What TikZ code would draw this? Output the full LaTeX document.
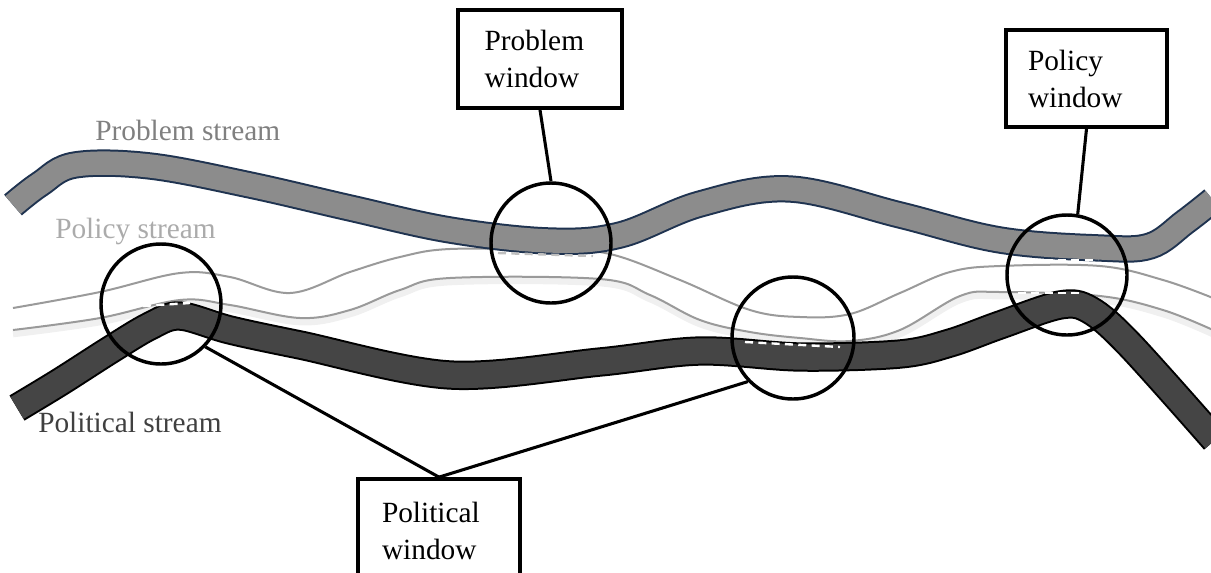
\documentclass[tikz,border=0pt]{standalone}
\usepackage{fontspec}
\setmainfont{Liberation Serif}
\definecolor{navy}{HTML}{1F3350}
\definecolor{probgray}{HTML}{8C8C8C}
\definecolor{polgray}{HTML}{9A9A9A}
\definecolor{politdark}{HTML}{454545}
\begin{document}
\begin{tikzpicture}[x=0.75pt,y=-0.75pt,
  bigfont/.style={font=\fontsize{22}{27.75}\selectfont},
  probband/.style={draw=navy,line width=1.5pt,double=probgray,double distance=17.5pt},
  politband/.style={draw=black,line width=1.5pt,double=politdark,double distance=19pt},
  polline/.style={draw=polgray,line width=1.5pt},
  shadowline/.style={draw=black!6,line width=5pt},
  dashline/.style={draw=white,line width=1.8pt,dash pattern=on 6pt off 4pt},
  windowcirc/.style={circle,draw=black,line width=2.6pt,minimum size=90pt,inner sep=0pt},
  winbox/.style={draw=black,line width=2.8pt,fill=white,align=left,bigfont,inner ysep=2pt},
  connector/.style={draw=black,line width=2.3pt},
  streamlabel/.style={bigfont,anchor=base west,inner sep=0pt}]
\useasboundingbox (0,0) rectangle (1211,572);
\clip (0,0) rectangle (1211,572);

% policy stream (two thin lines)
\draw[shadowline] plot[smooth,tension=0.6] coordinates {(13,334) (100,322) (180,304) (230,309) (300,322) (350,314) (400,294) (450,282) (600,283) (650,299) (700,324) (750,336) (800,342) (850,345) (900,334) (960,300) (1000,296) (1100,300) (1163,314) (1213,334)};
\draw[polline] plot[smooth,tension=0.6] coordinates {(13,308) (100,292) (180,273) (230,277) (290,293) (350,272) (400,257) (450,249) (550,250) (610,254) (680,280) (750,310) (800,317) (850,314) (900,293) (950,272) (1000,266) (1100,266) (1163,280) (1213,298)};
\draw[polline] plot[smooth,tension=0.6] coordinates {(13,330) (100,318) (180,300) (230,305) (300,318) (350,310) (400,290) (450,278) (600,279) (650,295) (700,320) (750,332) (800,338) (850,341) (900,330) (960,296) (1000,292) (1100,296) (1163,310) (1213,330)};

% political stream
\draw[politband] plot[smooth,tension=0.55] coordinates {(17,408) (60,382) (110,350) (150,326) (180,316) (230,330) (300,345) (450,375) (600,362) (700,351) (800,357) (900,354) (950,343) (1000,325) (1060,305) (1090,310) (1130,345) (1215,440)};

% problem stream
\draw[probband] plot[smooth,tension=0.6] coordinates {(13,205) (40,184) (75,165) (150,166) (250,185) (350,208) (450,230) (550,241) (620,235) (700,204) (790,189) (900,215) (1000,240) (1100,248) (1150,246) (1185,222) (1213,200)};

% dashed junctions
\draw[dashline] (143,306) -- (190,303);
\draw[dashline,draw=black!25] (498,253) -- (593,256);
\draw[dashline] (745,342) -- (840,347);
\draw[dashline] (1018,260) -- (1098,260);
\draw[dashline] (1018,293) -- (1080,293);

% stream labels
\node[streamlabel,text=black!50] (lprob) at (95,140) {Problem stream};
\node[streamlabel,text=black!33] (lpol) at (55,238) {Policy stream};
\node[streamlabel,text=black!75] (lpolit) at (38,432) {Political stream};

% windows
\node[windowcirc] (c1) at (161,304) {};
\node[windowcirc] (c2) at (551,243) {};
\node[windowcirc,minimum size=91.5pt] (c3) at (793,338) {};
\node[windowcirc] (c4) at (1067,275) {};

% boxes
\node[winbox,minimum width=123pt,minimum height=73.5pt,inner xsep=20pt,text width=83pt] (bprob) at (540,59) {Problem\\window};
\node[winbox,minimum width=120.75pt,minimum height=72.75pt,inner xsep=16.5pt,text width=87.75pt] (bpol) at (1086.5,78.5) {Policy\\window};
\node[winbox,minimum width=121.5pt,minimum height=78pt,inner xsep=18pt,text width=85.5pt] (bpolit) at (439,531) {Political\\window};

% connectors
\draw[connector] (bprob.south) -- (c2.north);
\draw[connector] (bpol.south) -- (c4.80);
\draw[connector] (c1.-44) -- (bpolit.north);
\draw[connector] (c3.224) -- (bpolit.north);
\end{tikzpicture}
\end{document}
